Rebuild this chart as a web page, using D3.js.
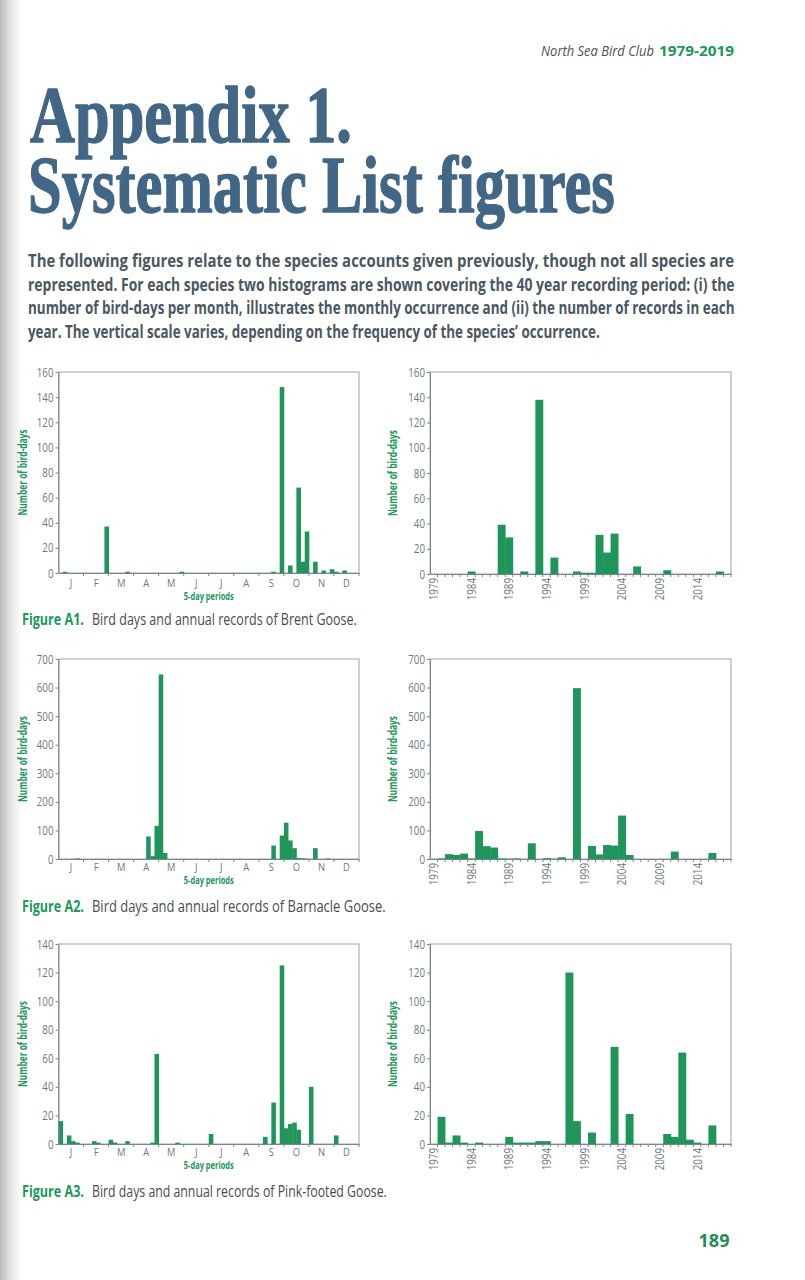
<!DOCTYPE html>
<html><head><meta charset="utf-8">
<script src="https://cdn.jsdelivr.net/npm/d3@7"></script>
<style>body{margin:0;background:#fff} svg{display:block}</style>
</head><body><svg id="page" width="805" height="1280"></svg>
<script>
// ---------- DATA ----------
const months = ["J","F","M","A","M","J","J","A","S","O","N","D"];
const years = [1979,1980,1981,1982,1983,1984,1985,1986,1987,1988,1989,1990,1991,1992,1993,1994,1995,1996,1997,1998,
               1999,2000,2001,2002,2003,2004,2005,2006,2007,2008,2009,2010,2011,2012,2013,2014,2015,2016,2017,2018];
const yearTickLabels = [1979,1984,1989,1994,1999,2004,2009,2014];

// bird-days per 5-day period (6 periods per month, Jan..Dec)
const brentPeriods = [
  0,1,0,0,0,0,   0,0,0,0,0,37,   0,0,0,0,1,0,   0,0,0,0,0,0,
  0,0,0,0,0,1,   0,0,0,0,0,0,    0,0,0,0,0,0,   0,0,0,0,0,0,
  0,0,0,1,0,148, 0,6,0,68,9,33,  0,9,0,2,0,3,   1,0,2,0,0,0];
const barnaclePeriods = [
  0,0,0,0,2,0,   0,0,0,0,0,0,    0,0,0,0,0,0,   0,0,0,79,10,116,
  646,21,0,0,0,0, 0,0,0,0,0,0,   0,0,0,0,0,0,   0,0,0,0,0,0,
  0,0,0,47,0,82, 127,65,38,3,2,1, 0,38,0,0,2,0, 0,0,0,0,0,0];
const pinkPeriods = [
  16,0,6,2,1,0,  0,0,2,1,0,0,    3,1,0,0,2,0,   0,0,0,0,1,63,
  0,0,0,0,1,0,   0,0,0,0,0,0,    7,0,0,0,0,0,   0,0,0,0,0,0,
  0,5,0,29,0,125, 11,14,15,10,0,0, 40,0,0,0,0,0, 6,0,0,0,0,0];

// annual records 1979..2018
const brentYears = [0,0,0,0,0,2,0,0,0,39, 29,0,2,0,138,0,13,0,0,2, 1,1,31,17,32,0,0,6,0,0, 0,3,0,0,0,0,0,0,2,0];
const barnacleYears = [0,2,17,14,19,2,98,45,40,2, 1,2,0,55,0,3,1,6,0,598, 0,46,16,49,47,152,14,0,0,0, 0,0,26,0,0,0,0,21,0,0];
const pinkYears = [0,19,1,6,1,0,1,0,0,0, 5,1,1,1,2,2,0,0,120,16, 0,8,0,0,68,0,21,0,0,0, 0,7,5,64,3,1,0,13,0,0];

const ticksA1 = [0,20,40,60,80,100,120,140,160];
const ticksA2 = [0,100,200,300,400,500,600,700];
const ticksA3 = [0,20,40,60,80,100,120,140];

const species = ["Brent Goose","Barnacle Goose","Pink-footed Goose"];
const figureLabels = ["Figure A1.","Figure A2.","Figure A3."];

const headerText = ["North Sea Bird Club", "1979-2019"];
const titleLines = ["Appendix 1.", "Systematic List figures"];
const paragraph = [
  "The following figures relate to the species accounts given previously, though not all species are",
  "represented. For each species two histograms are shown covering the 40 year recording period: (i) the",
  "number of bird-days per month, illustrates the monthly occurrence and (ii) the number of records in each",
  "year. The vertical scale varies, depending on the frequency of the species\u2019 occurrence."
];
const pageNumber = "189";

// ---------- STYLE ----------
const SANS = "'Open Sans','Noto Sans','DejaVu Sans',sans-serif";
const GREEN = "#1f9559";
const TEXTGREEN = "#21975b";
const AXIS = "#7b858e";
const TICKTXT = "#6e7780";

function condense(sel, f){
  sel.each(function(){
    const L = this.getComputedTextLength();
    d3.select(this).attr("textLength", L*f).attr("lengthAdjust","spacingAndGlyphs");
  });
}
function fitWidth(sel, w){ sel.attr("textLength", w).attr("lengthAdjust","spacingAndGlyphs"); }
// place a text at (x,y) and squeeze it horizontally to width w with a transform
function fitT(sel, x, y, w){
  sel.attr("x",0).attr("y",0);
  const L = sel.node().getComputedTextLength();
  sel.attr("transform",`translate(${x},${y}) scale(${w/L},1)`);
}

const svg = d3.select("#page");
svg.append("rect").attr("width",805).attr("height",1280).attr("fill","#fff");

// gutter shadow
const defs = svg.append("defs");
const grad = defs.append("linearGradient").attr("id","gut").attr("x1",0).attr("x2",1).attr("y1",0).attr("y2",0);
grad.append("stop").attr("offset",0).attr("stop-color","#b9b9b9");
grad.append("stop").attr("offset",0.45).attr("stop-color","#e2e2e2");
grad.append("stop").attr("offset",1).attr("stop-color","#ffffff");
svg.append("rect").attr("x",0).attr("y",0).attr("width",22).attr("height",1280).attr("fill","url(#gut)");

// header
const h1 = svg.append("text")
  .style("font-family",SANS).style("font-size","15px").style("font-style","italic")
  .attr("fill","#4d4f52").text(headerText[0]);
fitT(h1, 541, 56, 113);
const h2 = svg.append("text")
  .style("font-family",SANS).style("font-size","15px").style("font-weight","bold")
  .attr("fill",TEXTGREEN).text(headerText[1]);
fitT(h2, 659, 56, 75);

// title
const titleSpecs = [{x:30,y:142,w:322},{x:28,y:212,w:587}];
titleLines.forEach((t,i)=>{
  const tt = svg.append("text")
    .style("font-family","'Liberation Serif','DejaVu Serif',serif").style("font-weight","bold")
    .style("font-size","80px").attr("fill","#426686")
    .attr("stroke","#426686").attr("stroke-width",1.4).attr("stroke-linejoin","round").text(t);
  fitT(tt, titleSpecs[i].x, titleSpecs[i].y, titleSpecs[i].w);
});

// paragraph (justified)
const paraY = [267, 290.5, 314, 337.5];
const paraW = [707, 707, 707, 572];
paragraph.forEach((t,i)=>{
  const tx = svg.append("text")
    .style("font-family",SANS).style("font-weight","bold").style("font-size","18px")
    .attr("fill","#4b5862").text(t);
  fitT(tx, 28, paraY[i], paraW[i]);
});

// ---------- CHARTS ----------
function styleAxis(g, size){
  g.selectAll("path.domain").attr("stroke",AXIS).attr("stroke-width",1);
  g.selectAll(".tick line").attr("stroke",AXIS);
  g.selectAll(".tick text").attr("fill",TICKTXT).style("font-family",SANS).style("font-size",size||"12.5px");
}

function yTitle(x, top, bottom){
  const t = svg.append("text").attr("transform",`translate(${x},${(top+bottom)/2}) rotate(-90)`)
    .attr("text-anchor","middle").style("font-family",SANS).style("font-weight","bold")
    .style("font-size","11.5px").attr("fill",TEXTGREEN).text("Number of bird-days");
  fitWidth(t, 86);
}

function frameAndY(x0,x1,top,bottom,yMax){
  const y = d3.scaleLinear().domain([0,yMax]).range([bottom,top]);
  svg.append("rect").attr("x",x0).attr("y",top).attr("width",x1-x0).attr("height",bottom-top)
    .attr("fill","none").attr("stroke","#97a3ae").attr("stroke-width",1);
  return y;
}

function periodChart(values, x0, x1, top, bottom, yMax, ticks, labelBase){
  const y = frameAndY(x0,x1,top,bottom,yMax);
  const xp = d3.scaleBand().domain(d3.range(values.length)).range([x0,x1]).padding(0);
  const xm = d3.scaleBand().domain(d3.range(months.length)).range([x0,x1]);
  svg.append("g").selectAll("rect").data(values.map((v,i)=>({v,i})).filter(d=>d.v>0)).join("rect")
    .attr("x",d=>xp(d.i)).attr("width",xp.bandwidth()+0.4)
    .attr("y",d=>y(d.v)).attr("height",d=>bottom-y(d.v)).attr("fill",GREEN);
  const ya = svg.append("g").attr("transform",`translate(${x0},0)`)
    .call(d3.axisLeft(y).tickValues(ticks).tickSize(3).tickPadding(2).tickSizeOuter(0));
  styleAxis(ya);
  condense(ya.selectAll(".tick text"), 0.78);
  const xa = svg.append("g").attr("transform",`translate(0,${bottom})`)
    .call(d3.axisBottom(xm).tickSize(0).tickPadding(0).tickSizeOuter(0).tickFormat(i=>months[i]));
  styleAxis(xa, "11px");
  xa.selectAll(".tick text").attr("y",0).attr("dy",0).attr("transform",`translate(0,${labelBase-bottom})`);
  condense(xa.selectAll(".tick text"), 0.85);
  svg.append("g").selectAll("line").data(d3.range(1,months.length).map(i=>xm(i)).concat([x1])).join("line")
    .attr("x1",d=>d).attr("x2",d=>d).attr("y1",bottom).attr("y2",bottom+3).attr("stroke",AXIS);
  const xt = svg.append("text").attr("text-anchor","middle")
    .style("font-family",SANS).style("font-weight","bold").style("font-size","10.5px")
    .attr("fill",TEXTGREEN).text("5-day periods");
  fitT(xt, (x0+x1)/2, labelBase+13, 50);
  yTitle(27, top, bottom);
}

function yearChart(values, x0, x1, top, bottom, yMax, ticks){
  const y = frameAndY(x0,x1,top,bottom,yMax);
  const xy = d3.scaleBand().domain(years).range([x0,x1]).padding(0);
  svg.append("g").selectAll("rect").data(years.map((yr,i)=>({yr,v:values[i]})).filter(d=>d.v>0)).join("rect")
    .attr("x",d=>xy(d.yr)).attr("width",xy.bandwidth()+0.4)
    .attr("y",d=>y(d.v)).attr("height",d=>bottom-y(d.v)).attr("fill",GREEN);
  const ya = svg.append("g").attr("transform",`translate(${x0},0)`)
    .call(d3.axisLeft(y).tickValues(ticks).tickSize(3).tickPadding(2).tickSizeOuter(0));
  styleAxis(ya);
  condense(ya.selectAll(".tick text"), 0.78);
  const xa = svg.append("g").attr("transform",`translate(0,${bottom})`)
    .call(d3.axisBottom(xy).tickValues(yearTickLabels).tickSize(0).tickSizeOuter(0));
  styleAxis(xa);
  xa.selectAll(".tick text").attr("transform","rotate(-90)").attr("x",-4).attr("y",0)
    .attr("dy","0.35em").style("text-anchor","end");
  condense(xa.selectAll(".tick text"), 0.78);
  svg.append("g").selectAll("line").data(years.slice(1).map(yr=>xy(yr)).concat([x1])).join("line")
    .attr("x1",d=>d).attr("x2",d=>d).attr("y1",bottom).attr("y2",bottom+3).attr("stroke",AXIS);
  yTitle(397, top, bottom);
}

const captionRestW = [265, 294, 295];
function caption(i, baseline){
  const a = svg.append("text")
    .style("font-family",SANS).style("font-size","16px").style("font-weight","bold")
    .attr("fill",TEXTGREEN).text(figureLabels[i]);
  fitT(a, 22, baseline, 62);
  const b = svg.append("text")
    .style("font-family",SANS).style("font-size","16px")
    .attr("fill","#4a4c50").text("Bird days and annual records of " + species[i] + ".");
  fitT(b, 92, baseline, captionRestW[i]);
}

const LX0 = 58.5, LX1 = 359, RX0 = 430, RX1 = 731;
periodChart(brentPeriods, LX0, LX1, 372, 573, 160, ticksA1, 586.5);
yearChart(brentYears, RX0, RX1, 372, 574, 160, ticksA1);
caption(0, 625);

periodChart(barnaclePeriods, LX0, LX1, 659, 859, 700, ticksA2, 870.5);
yearChart(barnacleYears, RX0, RX1, 659, 859, 700, ticksA2);
caption(1, 912);

periodChart(pinkPeriods, LX0, LX1, 944, 1144, 140, ticksA3, 1155.5);
yearChart(pinkYears, RX0, RX1, 944, 1144, 140, ticksA3);
caption(2, 1197);

svg.append("text").attr("x",714).attr("y",1247).attr("text-anchor","middle")
  .style("font-family",SANS).style("font-weight","bold").style("font-size","18px")
  .attr("fill","#1f8e56").text(pageNumber);
</script></body></html>
